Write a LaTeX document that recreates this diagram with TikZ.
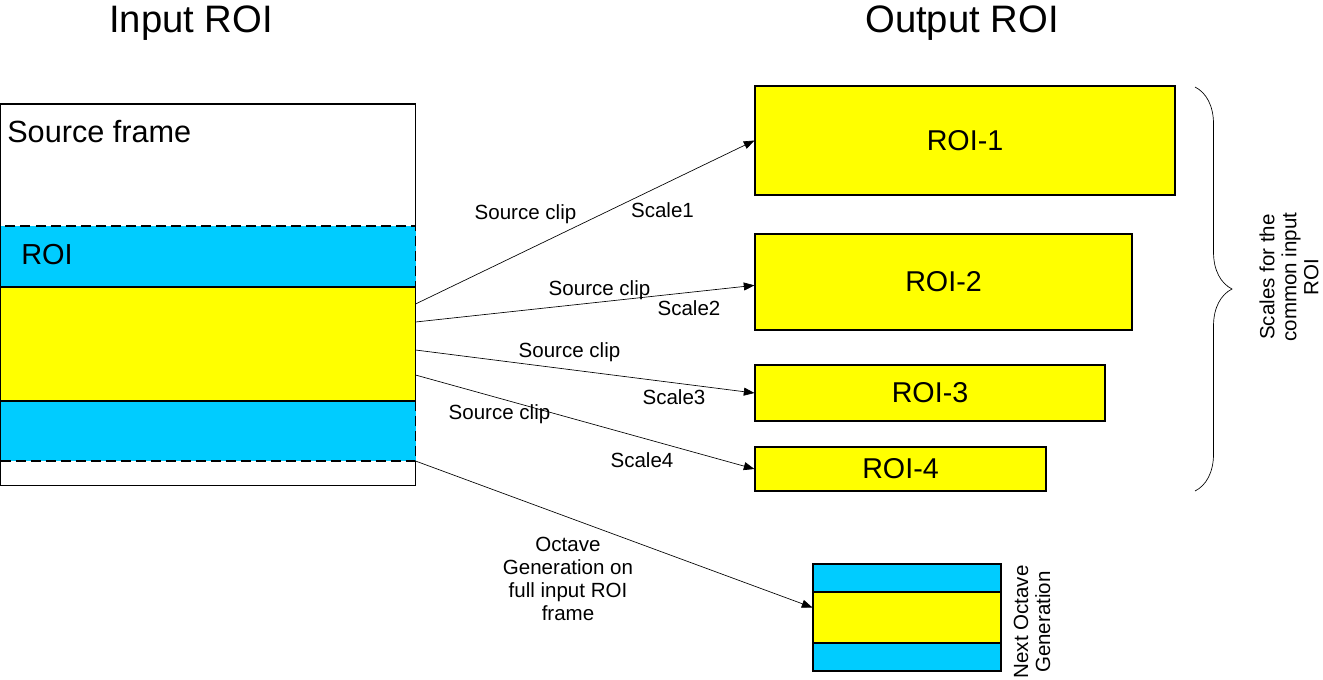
\documentclass[tikz,border=0pt]{standalone}
\usepackage{fontspec}
\setmainfont{Liberation Sans}
\usetikzlibrary{arrows.meta,decorations.pathreplacing}

\definecolor{roiblue}{RGB}{0,204,255}
\definecolor{roiyellow}{RGB}{255,255,0}

\begin{document}
\begin{tikzpicture}[x=0.75pt,y=-0.75pt,
  title/.style={anchor=base, inner sep=0pt, font=\fontsize{28.7}{34}\selectfont},
  band/.style={draw, line width=0.8pt, inner sep=0pt, minimum width=311.25pt},
  roibox/.style={draw, line width=0.8pt, inner sep=0pt, fill=roiyellow, font=\fontsize{21.5}{26}\selectfont},
  small/.style={font=\fontsize{15.4}{16.5}\selectfont, inner sep=0pt, align=center},
  arr/.style={-{Triangle[length=8pt,width=6pt]}, line width=0.5pt}]
\useasboundingbox (0,0) rectangle (1323,679);

\node[title] (tin) at (191,32) {Input ROI};
\node[title] (tout) at (962,32) {Output ROI};

% input frame
\node[band, minimum height=286.1pt] (src) at (208,294.75) {};
\node[anchor=base west, inner sep=0pt, font=\fontsize{23}{28}\selectfont] (srctxt) at (7,142) {Source frame};
\node[band, fill=roiblue, dash pattern=on 7.5pt off 3.75pt, minimum height=176.25pt] (roi) at (208,343.5) {};
\node[band, fill=roiyellow, minimum height=85.5pt] (core) at (208,344) {};
\node[anchor=base west, inner sep=0pt, font=\fontsize{21.7}{26}\selectfont] (roitxt) at (21,264) {ROI};

% output scales
\node[roibox, minimum width=315pt, minimum height=81.75pt] (roi1) at (965,140.5) {ROI-1};
\node[roibox, minimum width=282.75pt, minimum height=72pt] (roi2) at (943.5,282) {ROI-2};
\node[roibox, minimum width=262.5pt, minimum height=42pt] (roi3) at (930,393) {ROI-3};
\node[roibox, minimum width=218.25pt, minimum height=33pt] (roi4) at (900.5,469) {ROI-4};

% next octave
\node[draw, line width=0.8pt, fill=roiblue, minimum width=141pt, minimum height=80.25pt] (nxt) at (907,617.5) {};
\node[draw, line width=0.8pt, fill=roiyellow, minimum width=141pt, minimum height=38.25pt] (nxtcore) at (907,617.5) {};
\node[small, rotate=90] (nxttxt) at (1032,622) {Next Octave\\Generation};

\coordinate (s1) at (415.5,304);
\coordinate (s2) at (415.5,322);
\coordinate (s3) at (415.5,350);
\coordinate (s4) at (415.5,375);
\coordinate (s5) at (415.5,461);

\draw[arr] (s1) -- (roi1.west);
\draw[arr] (s2) -- ([yshift=-2.5pt]roi2.west);
\draw[arr] (s3) -- (roi3.west);
\draw[arr] (s4) -- (roi4.west);
\draw[arr] (s5) -- ([yshift=7.5pt]nxtcore.west);

\node[small] (clip1) at (525.5,214) {Source clip};
\node[small] (scl1) at (662.5,210) {Scale1};
\node[small] (clip2) at (599.5,290) {Source clip};
\node[small] (scl2) at (689,308) {Scale2};
\node[small] (clip3) at (569.5,352) {Source clip};
\node[small] (scl3) at (674,397) {Scale3};
\node[small] (clip4) at (499.5,414) {Source clip};
\node[small] (scl4) at (642,460) {Scale4};
\node[small, font=\fontsize{15.4}{17.25}\selectfont] (oct) at (568,579) {Octave\\Generation on\\full input ROI\\frame};

% brace
\draw[line width=0.5pt, decorate, decoration={brace, amplitude=27.75pt}] (1195,87) -- (1195,491);
\node[small, rotate=90] (scales) at (1289,277) {Scales for the\\common input\\ROI};
\end{tikzpicture}
\end{document}
